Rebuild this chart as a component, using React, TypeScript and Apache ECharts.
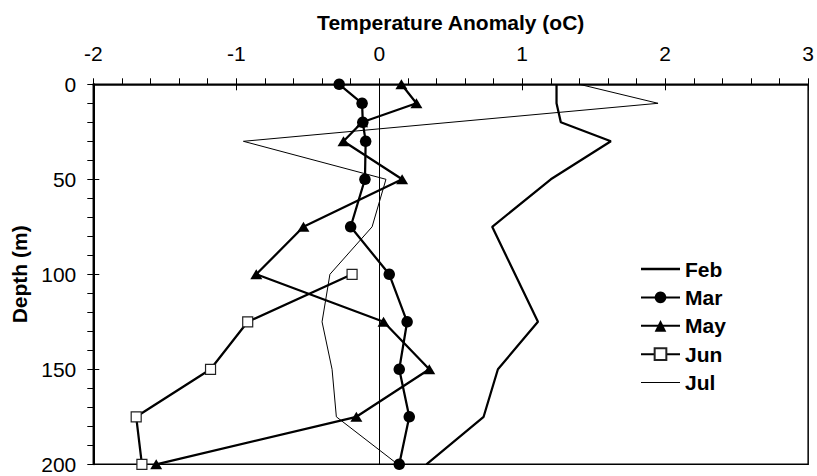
import React, { useRef, useEffect } from "react";
import * as echarts from "echarts";

// depth levels (m)
const DEPTHS = [0, 10, 20, 30, 50, 75, 100, 125, 150, 175, 200];

// temperature anomaly (oC) per month, aligned with DEPTHS (null = no sample)
const FEB = [1.24, 1.24, 1.27, 1.62, 1.2, 0.79, 0.95, 1.11, 0.83, 0.73, 0.33];
const MAR = [-0.28, -0.12, -0.115, -0.095, -0.1, -0.2, 0.07, 0.195, 0.14, 0.21, 0.14];
const MAY = [0.155, 0.26, -0.12, -0.25, 0.16, -0.53, -0.86, 0.03, 0.35, -0.16, -1.56];
const JUN = [null, null, null, null, null, null, -0.19, -0.92, -1.18, -1.7, -1.66];
const JUL = [1.4, 1.95, null, -0.95, 0.047, -0.05, -0.345, -0.4, -0.33, -0.3, 0.13];

const FONT = "'Liberation Sans', Arial, Helvetica, sans-serif";

const toPairs = (vals: (number | null)[]) =>
  DEPTHS.map((d, i) => [vals[i], d]).filter((p) => p[0] !== null);

const App: React.FC = () => {
  const ref = useRef<HTMLDivElement>(null);

  useEffect(() => {
    if (!ref.current) return;
    const chart = echarts.init(ref.current, null, { renderer: "svg" });

    const xBase = { type: "value" as const, min: -2, max: 3, interval: 1, position: "top" as const };
    const yBase = { type: "value" as const, min: 0, max: 200, interval: 50, inverse: true, position: "left" as const };
    const tickLine = { color: "#000", width: 1 };

    chart.setOption({
      animation: false,
      backgroundColor: "#fff",
      grid: {
        left: 93.3,
        top: 84.3,
        right: 7,
        bottom: 11.7,
        show: true,
        borderColor: "#000",
        borderWidth: 1.5,
      },
      legend: {
        orient: "vertical",
        left: 640,
        top: 258.5,
        padding: 0,
        itemWidth: 39,
        itemHeight: 14.6,
        itemGap: 7.4,
        textStyle: { fontFamily: FONT, fontSize: 21, fontWeight: "bold", color: "#000", lineHeight: 21 },
        data: [
          { name: "Feb", icon: "path://M0,0H40V2.5H0Z" },
          "Mar",
          "May",
          "Jun",
          { name: "Jul", icon: "path://M0,0H40V1H0Z" },
        ],
      },
      xAxis: [
        {
          ...xBase,
          name: "Temperature Anomaly (oC)",
          nameLocation: "middle",
          nameGap: 51,
          nameTextStyle: { fontFamily: FONT, fontSize: 21, fontWeight: "bold", color: "#000" },
          axisLine: { show: true, onZero: false, lineStyle: { color: "#000", width: 1.5 } },
          axisTick: { show: true, length: 6, lineStyle: tickLine },
          minorTick: { show: true, splitNumber: 5, length: 6, lineStyle: tickLine },
          axisLabel: { margin: 20, fontFamily: FONT, fontSize: 21, color: "#000" },
          splitLine: { show: false },
        },
        {
          // inner half of the crossing major ticks
          ...xBase,
          axisLine: { show: false, onZero: false },
          axisTick: { show: true, inside: true, length: 6, lineStyle: tickLine },
          axisLabel: { show: false },
          splitLine: { show: false },
        },
      ],
      yAxis: [
        {
          ...yBase,
          name: "Depth (m)",
          nameLocation: "middle",
          nameRotate: 90,
          nameGap: 63.5,
          nameTextStyle: { fontFamily: FONT, fontSize: 21, fontWeight: "bold", color: "#000" },
          axisLine: { show: true, onZero: false, lineStyle: { color: "#000", width: 2 } },
          axisTick: { show: true, length: 6, lineStyle: tickLine },
          minorTick: { show: true, splitNumber: 5, length: 6, lineStyle: tickLine },
          axisLabel: { margin: 17, fontFamily: FONT, fontSize: 21, color: "#000" },
          splitLine: { show: false },
        },
        {
          ...yBase,
          axisLine: { show: false, onZero: false },
          axisTick: { show: true, inside: true, length: 6, lineStyle: tickLine },
          axisLabel: { show: false },
          splitLine: { show: false },
        },
      ],
      series: [
        {
          name: "Feb",
          type: "line",
          data: toPairs(FEB),
          symbol: "none",
          lineStyle: { color: "#000", width: 2.25 },
          itemStyle: { color: "#000" },
          markLine: {
            silent: true,
            symbol: ["none", "none"],
            label: { show: false },
            lineStyle: { color: "#000", width: 1, type: "solid" },
            data: [{ xAxis: 0 }],
          },
        },
        {
          name: "Jul",
          type: "line",
          data: toPairs(JUL),
          symbol: "none",
          lineStyle: { color: "#000", width: 1 },
          itemStyle: { color: "#000" },
        },
        {
          name: "Jun",
          type: "line",
          data: toPairs(JUN),
          symbol: "rect",
          symbolSize: 10,
          lineStyle: { color: "#000", width: 2.25 },
          itemStyle: { color: "#fff", borderColor: "#222", borderWidth: 1.2 },
        },
        {
          name: "May",
          type: "line",
          data: toPairs(MAY),
          symbol: "triangle",
          symbolSize: [12, 10],
          lineStyle: { color: "#000", width: 2.25 },
          itemStyle: { color: "#000" },
        },
        {
          name: "Mar",
          type: "line",
          data: toPairs(MAR),
          symbol: "circle",
          symbolSize: 11.5,
          lineStyle: { color: "#000", width: 2.25 },
          itemStyle: { color: "#000" },
        },
      ],
    });

    return () => chart.dispose();
  }, []);

  return (
    <div
      ref={ref}
      style={{ position: "absolute", left: 0, top: 0, width: 817, height: 476 }}
    />
  );
};

export default App;
